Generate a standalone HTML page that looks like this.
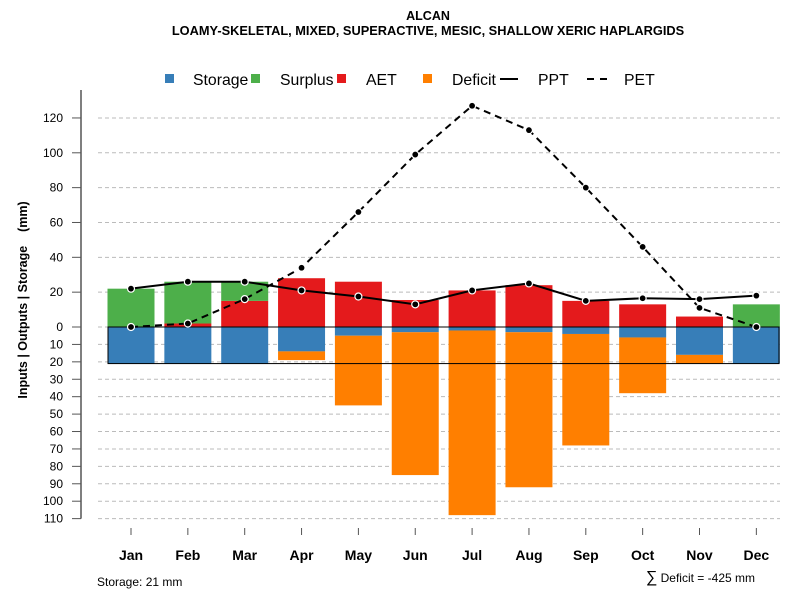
<!DOCTYPE html>
<html><head><meta charset="utf-8"><style>
body{margin:0;background:#fff;font-family:"Liberation Sans",sans-serif}
svg text{font-family:"Liberation Sans",sans-serif}
</style></head><body>
<svg id="c" width="800" height="600" xmlns="http://www.w3.org/2000/svg">
<text x="428" y="20" text-anchor="middle" font-size="12.5" font-weight="bold">ALCAN</text>
<text x="428" y="35" text-anchor="middle" font-size="12.8" font-weight="bold">LOAMY-SKELETAL, MIXED, SUPERACTIVE, MESIC, SHALLOW XERIC HAPLARGIDS</text>
<g id="grid"></g><g id="bars"></g><g id="lines"></g><g id="axes"></g>
<g font-size="15.8">
<rect x="165" y="74" width="9" height="9" fill="#377eb8"/>
<text x="193" y="85">Storage</text>
<rect x="251" y="74" width="9" height="9" fill="#4daf4a"/>
<text x="280" y="85">Surplus</text>
<rect x="337" y="74" width="9" height="9" fill="#e41a1c"/>
<text x="366" y="85">AET</text>
<rect x="423" y="74" width="9" height="9" fill="#ff7f00"/>
<text x="452" y="85">Deficit</text>
<line x1="500" y1="79" x2="518" y2="79" stroke="#000" stroke-width="2"/>
<text x="538" y="85">PPT</text>
<line x1="587" y1="79" x2="608" y2="79" stroke="#000" stroke-width="2" stroke-dasharray="7,6"/>
<text x="624" y="85">PET</text>
</g>
<text x="97" y="586" font-size="12">Storage: 21 mm</text>
<text x="755" y="582" text-anchor="end" font-size="12"><tspan font-size="16">∑</tspan> Deficit = -425 mm</text>
<text transform="translate(27,300) rotate(-90)" text-anchor="middle" font-size="12.5" font-weight="bold" xml:space="preserve">Inputs | Outputs | Storage    (mm)</text>
</svg>
<script>
const months=["Jan","Feb","Mar","Apr","May","Jun","Jul","Aug","Sep","Oct","Nov","Dec"];
const surplus=[22,24,11,0,0,0,0,0,0,0,0,13];
const aet=[0,2,15,28,26,15.5,21,24,15,13,6,0];
const storageDraw=[21,21,21,14,5,3,2,3,4,6,16,21];
const deficit=[0,0,0,5,40,82,106,89,64,32,5,0];
const ppt=[22,26,26,21,17.5,13,21,25,15,16.5,16,18];
const pet=[0,2,16,34,66,99,127,113,80,46,11,0];
const upTicks=[0,20,40,60,80,100,120];
const downTicks=[10,20,30,40,50,60,70,80,90,100,110];
const NS="http://www.w3.org/2000/svg";
const Y0=327,K=1.742;
const yUp=v=>Y0-v*K, yDn=v=>Y0+v*K, xM=i=>131+i*56.85;
function mk(p,t,a){const e=document.createElementNS(NS,t);for(const k in a)e.setAttribute(k,a[k]);p.appendChild(e);return e;}
const G=document.getElementById('grid'),B=document.getElementById('bars'),L=document.getElementById('lines'),A=document.getElementById('axes');
mk(A,'line',{x1:81,y1:90,x2:81,y2:yDn(110),stroke:'#555','stroke-width':1.5});
function tick(y,lab){
 const g=mk(G,'line',{x1:98,y1:y,x2:780,y2:y,stroke:'#bbb','stroke-dasharray':'4,3'});
 
 
 mk(A,'line',{x1:72,y1:y,x2:81,y2:y,stroke:'#555'});
 const t=mk(A,'text',{x:63,y:y+4,'text-anchor':'end','font-size':12});t.textContent=lab;
 
 
}
upTicks.forEach(v=>tick(yUp(v),v));
downTicks.forEach(v=>tick(yDn(v),v));
const W=47;
months.forEach((m,i)=>{
 const x=xM(i)-W/2;
 let r;
 if(aet[i]>0){r=mk(B,'rect',{x:x,y:yUp(aet[i]),width:W,height:aet[i]*K,fill:'#e41a1c'});
 
 }
 if(surplus[i]>0){r=mk(B,'rect',{x:x,y:yUp(aet[i]+surplus[i]),width:W,height:surplus[i]*K,fill:'#4daf4a'});
 
 }
 r=mk(B,'rect',{x:x,y:Y0,width:W,height:storageDraw[i]*K,fill:'#377eb8'});
 
 
 if(deficit[i]>0){r=mk(B,'rect',{x:x,y:yDn(storageDraw[i]),width:W,height:deficit[i]*K,fill:'#ff7f00'});
 
 }
 mk(A,'line',{x1:xM(i),y1:528,x2:xM(i),y2:535,stroke:'#555'});
 const t=mk(A,'text',{x:xM(i),y:560,'text-anchor':'middle','font-size':14,'font-weight':'bold'});t.textContent=m;
 
 
});
const box=mk(B,'rect',{x:108,y:Y0,width:671,height:21*K,fill:'none',stroke:'#000','stroke-width':1});


function series(vals,dash,name){
 const p=mk(L,'polyline',{points:vals.map((v,i)=>xM(i)+','+yUp(v)).join(' '),fill:'none',stroke:'#000','stroke-width':2,'stroke-dasharray':dash});
 
 
 vals.forEach((v,i)=>{const c=mk(L,'circle',{cx:xM(i),cy:yUp(v),r:3.5,fill:'#000',stroke:'#fff','stroke-width':1.2});
 
 });
}
series(ppt,'none','ppt');
series(pet,'7,5','pet');
</script>
</body></html>
